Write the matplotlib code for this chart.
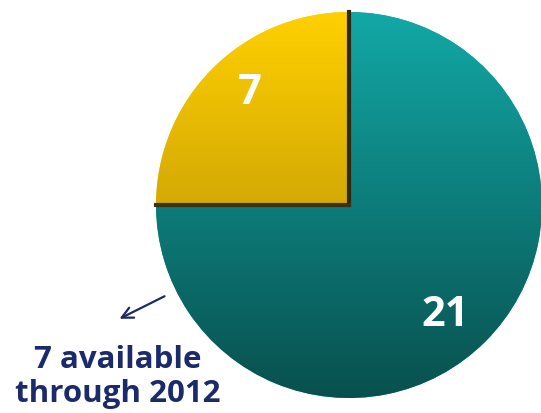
import matplotlib.pyplot as plt
import numpy as np
from matplotlib.colors import LinearSegmentedColormap

values = [7, 21]
labels = ['7', '21']
top_colors = ['#ffd000', '#12a8a6']
bottom_colors = ['#a8820a', '#08504e']
note = '7 available\nthrough 2012'

fig = plt.figure(figsize=(5.41, 4.13), dpi=100)
ax = fig.add_axes([0, 0, 1, 1])

cx, cy, r = 349, 208, 193
wedges, _ = ax.pie(values, startangle=90, counterclock=True, center=(cx, cy),
                   radius=r, colors=top_colors, frame=True,
                   wedgeprops=dict(edgecolor='none'))
ax.set_xlim(0, 541)
ax.set_ylim(0, 413)
ax.set_aspect('equal')
ax.axis('off')

# vertical gradient fill clipped to each wedge
grad = np.linspace(0, 1, 256).reshape(-1, 1)
for w, c1, c2 in zip(wedges, top_colors, bottom_colors):
    cmap = LinearSegmentedColormap.from_list('g', [c2, c1])
    im = ax.imshow(grad, cmap=cmap, origin='lower', aspect='auto',
                   extent=(cx - r, cx + r, cy - r, cy + r), zorder=2)
    im.set_clip_path(w)

# dark separating edges
ax.plot([cx, cx], [cy, cy + r], color='#2e2a10', lw=3, zorder=3)
ax.plot([cx - r, cx], [cy, cy], color='#3a3212', lw=3, zorder=3)

ax.text(250, 413 - 93, labels[0], color='white', fontsize=30, fontweight='bold',
        family='Open Sans', ha='center', va='center', zorder=4)
ax.text(445, 413 - 315, labels[1], color='white', fontsize=30, fontweight='bold',
        family='Open Sans', ha='center', va='center', zorder=4)

ax.text(118, 413 - 377, note, color='#1a2a6a', fontsize=22.5, fontweight='bold',
        family='Open Sans', ha='center', va='center', linespacing=1.2)
ax.annotate('', xy=(117, 413 - 320), xytext=(167, 413 - 295),
            arrowprops=dict(arrowstyle='->', color='#1a2a6a', lw=1.6,
                            mutation_scale=20))

fig.savefig('out.png', dpi=100)
